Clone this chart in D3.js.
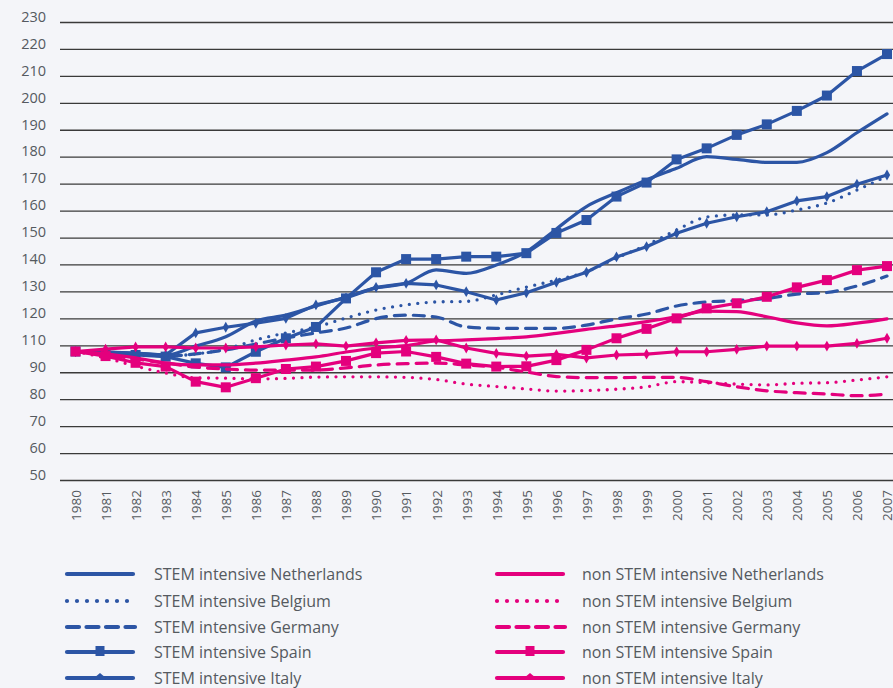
<!DOCTYPE html>
<html><head><meta charset="utf-8">
<script src="https://cdn.jsdelivr.net/npm/d3@7"></script>
<style>
body{margin:0;background:#f4f5f9;}
svg{display:block;font-family:"Open Sans","Noto Sans",sans-serif;}
</style></head>
<body><svg id="c" width="893" height="688"></svg>
<script>
const years = ["1980","1981","1982","1983","1984","1985","1986","1987","1988","1989","1990","1991","1992","1993","1994","1995","1996","1997","1998","1999","2000","2001","2002","2003","2004","2005","2006","2007"];
// tick labels as printed on the original axis (bottom to top)
const tickLabels = ["50","60","70","80","90","110","120","130","140","150","160","170","180","190","200","210","220","230"];

const stemNetherlands = [97.7,97.5,97.1,96.4,99.7,103.2,109.0,111.2,114.6,117.9,121.3,123.0,128.0,126.7,129.8,134.7,143.2,151.5,156.6,161.4,165.7,170.0,169.0,167.9,167.9,171.5,178.9,185.9];
const stemBelgium = [97.7,97.3,96.8,96.0,96.8,98.6,102.0,104.6,106.8,110.1,113.1,115.0,116.1,116.3,118.7,121.6,124.2,127.3,132.4,137.2,142.8,147.6,148.4,148.4,150.2,152.8,157.6,162.8];
const stemGermany = [97.7,97.3,96.8,96.0,96.8,98.3,100.5,102.7,104.6,106.4,109.9,111.2,110.5,106.8,106.3,106.3,106.3,107.5,109.8,111.6,114.6,116.1,116.6,117.4,119.0,119.6,122.0,125.7];
const stemSpain = [97.7,97.1,96.4,95.8,93.3,91.8,97.6,102.6,106.8,117.4,127.1,132.0,132.0,132.9,132.9,134.2,141.7,146.5,155.2,160.4,169.0,173.1,178.1,182.0,187.0,192.7,201.8,208.1];
const stemItaly = [97.7,97.5,97.0,96.4,104.6,106.7,108.2,110.0,115.0,117.6,121.5,123.0,122.4,119.9,116.8,119.5,123.4,127.1,132.8,136.6,141.6,145.3,147.7,149.6,153.6,155.2,159.8,163.2];

const nonNetherlands = [97.7,96.8,95.3,93.4,92.7,92.7,93.4,94.5,95.7,97.5,99.0,99.9,101.6,102.0,102.5,103.1,104.4,105.9,107.2,108.8,110.6,112.7,112.5,110.6,108.3,107.2,108.2,109.8];
const nonBelgium = [97.7,95.3,92.3,89.7,87.9,87.8,87.5,87.7,88.2,88.3,88.3,88.1,87.3,85.6,84.7,83.8,83.0,83.2,83.7,84.6,86.5,86.1,85.6,85.3,85.9,86.1,87.1,88.3];
const nonGermany = [97.7,96.4,94.9,93.4,91.9,91.2,90.8,90.8,90.8,91.6,92.7,93.2,93.4,92.7,91.8,90.1,88.4,88.0,88.0,88.1,88.1,86.5,84.6,83.1,82.4,81.9,81.3,81.9];
const nonSpain = [97.7,96.0,93.5,92.1,86.5,84.4,87.8,91.2,92.1,94.2,97.1,97.7,95.7,93.2,92.1,92.2,94.5,98.3,102.6,106.1,110.0,113.7,115.6,118.0,121.5,124.2,127.9,129.4];
const nonItaly = [97.7,98.6,99.4,99.4,99.0,99.0,99.4,100.1,100.5,99.7,100.9,101.8,102.0,99.0,97.0,96.0,96.6,95.3,96.4,96.7,97.6,97.6,98.5,99.7,99.7,99.7,100.7,102.6];

const BLUE = "#2c55a5", PINK = "#e4007d";
const series = [
  {name:"STEM intensive Netherlands", values:stemNetherlands, color:BLUE, style:"solid", marker:null},
  {name:"STEM intensive Belgium", values:stemBelgium, color:BLUE, style:"dotted", marker:null},
  {name:"STEM intensive Germany", values:stemGermany, color:BLUE, style:"dashed", marker:null},
  {name:"STEM intensive Spain", values:stemSpain, color:BLUE, style:"solid", marker:"square"},
  {name:"STEM intensive Italy", values:stemItaly, color:BLUE, style:"solid", marker:"diamond"},
  {name:"non STEM intensive Netherlands", values:nonNetherlands, color:PINK, style:"solid", marker:null},
  {name:"non STEM intensive Belgium", values:nonBelgium, color:PINK, style:"dotted", marker:null},
  {name:"non STEM intensive Germany", values:nonGermany, color:PINK, style:"dashed", marker:null},
  {name:"non STEM intensive Spain", values:nonSpain, color:PINK, style:"solid", marker:"square"},
  {name:"non STEM intensive Italy", values:nonItaly, color:PINK, style:"solid", marker:"diamond"}
];

const svg = d3.select("#c");
svg.append("rect").attr("width",893).attr("height",688).attr("fill","#f4f5f9");

const x = d3.scalePoint().domain(years).range([75.5, 887]);
const y = d3.scaleLinear().domain([50, 220]).range([480, 22]);
const tickVals = d3.range(tickLabels.length).map(i => 50 + i*10);

// gridlines + y labels
const yAxis = d3.axisLeft(y).tickValues(tickVals).tickSize(0).tickFormat((d,i)=>tickLabels[i]);
const gy = svg.append("g").attr("transform","translate(60,0)").call(yAxis);
gy.select(".domain").remove();
gy.selectAll(".tick line").attr("x2", 893-60).attr("stroke","#3a3a3a").attr("stroke-width",1.3);
gy.selectAll(".tick text").attr("x",-14).attr("dy","-0.05em").attr("fill","#555a60").attr("font-size",14.5).attr("font-family","'Open Sans',sans-serif");

// x labels (rotated)
const xAxis = d3.axisBottom(x).tickSize(0);
const gx = svg.append("g").attr("transform","translate(0,480)").call(xAxis);
gx.select(".domain").remove();
gx.selectAll(".tick text")
  .attr("transform","rotate(-90)")
  .attr("x",-10).attr("y",0).attr("dy","0.36em")
  .attr("text-anchor","end")
  .attr("fill","#555a60").attr("font-size",13.5).attr("font-family","'Open Sans',sans-serif");

function dashFor(style){
  if(style==="dotted") return "0,8.5";
  if(style==="dashed") return "11,8";
  return null;
}

const lineSmooth = d3.line().x((d,i)=>x(years[i])).y(d=>y(d)).curve(d3.curveMonotoneX);
const lineStraight = d3.line().x((d,i)=>x(years[i])).y(d=>y(d)).curve(d3.curveLinear);

const plot = svg.append("g");
series.forEach(s=>{
  const g = plot.append("g");
  g.append("path").datum(s.values)
    .attr("d", s.marker ? lineStraight : lineSmooth)
    .attr("fill","none").attr("stroke",s.color)
    .attr("stroke-width", s.style==="dotted" ? 3.3 : 3.2)
    .attr("stroke-linecap","round").attr("stroke-linejoin","round")
    .attr("stroke-dasharray", dashFor(s.style));
  if(s.marker==="square"){
    g.selectAll("rect").data(s.values).join("rect")
      .attr("x",(d,i)=>x(years[i])-5).attr("y",d=>y(d)-5)
      .attr("width",10).attr("height",10).attr("fill",s.color);
  } else if(s.marker==="diamond"){
    g.selectAll("path.m").data(s.values).join("path").attr("class","m")
      .attr("transform",(d,i)=>`translate(${x(years[i])},${y(d)})`)
      .attr("d", d3.symbol(d3.symbolDiamond, 34)())
      .attr("fill",s.color);
  }
});

// legend
const legendCols = [{x0:67, x1:133, tx:154}, {x0:497, x1:563, tx:582}];
const rowY = [574, 601, 627, 652, 678];
series.forEach((s,k)=>{
  const col = legendCols[k<5?0:1], r = rowY[k%5];
  const g = svg.append("g");
  let dash = null, w = 4.2;
  if(s.style==="dotted"){ dash = "0,10"; w = 4.2; }
  if(s.style==="dashed"){ dash = "12,7.5"; }
  g.append("line").attr("x1",col.x0).attr("x2",s.style==="dashed"?col.x1+2:col.x1).attr("y1",r).attr("y2",r)
    .attr("stroke",s.color).attr("stroke-width",w).attr("stroke-linecap","round")
    .attr("stroke-dasharray",dash);
  const cx = (col.x0+col.x1)/2;
  if(s.marker==="square"){
    g.append("rect").attr("x",cx-4.5).attr("y",r-6).attr("width",9).attr("height",10).attr("fill",s.color);
  } else if(s.marker==="diamond"){
    g.append("path").attr("d",`M${cx-6},${r}L${cx},${r-5}L${cx+6},${r}Z`).attr("fill",s.color);
  }
  g.append("text").attr("x",col.tx).attr("y",r).attr("dy","0.35em")
    .attr("fill","#555a60").attr("font-size",16).text(s.name);
});
</script></body></html>
